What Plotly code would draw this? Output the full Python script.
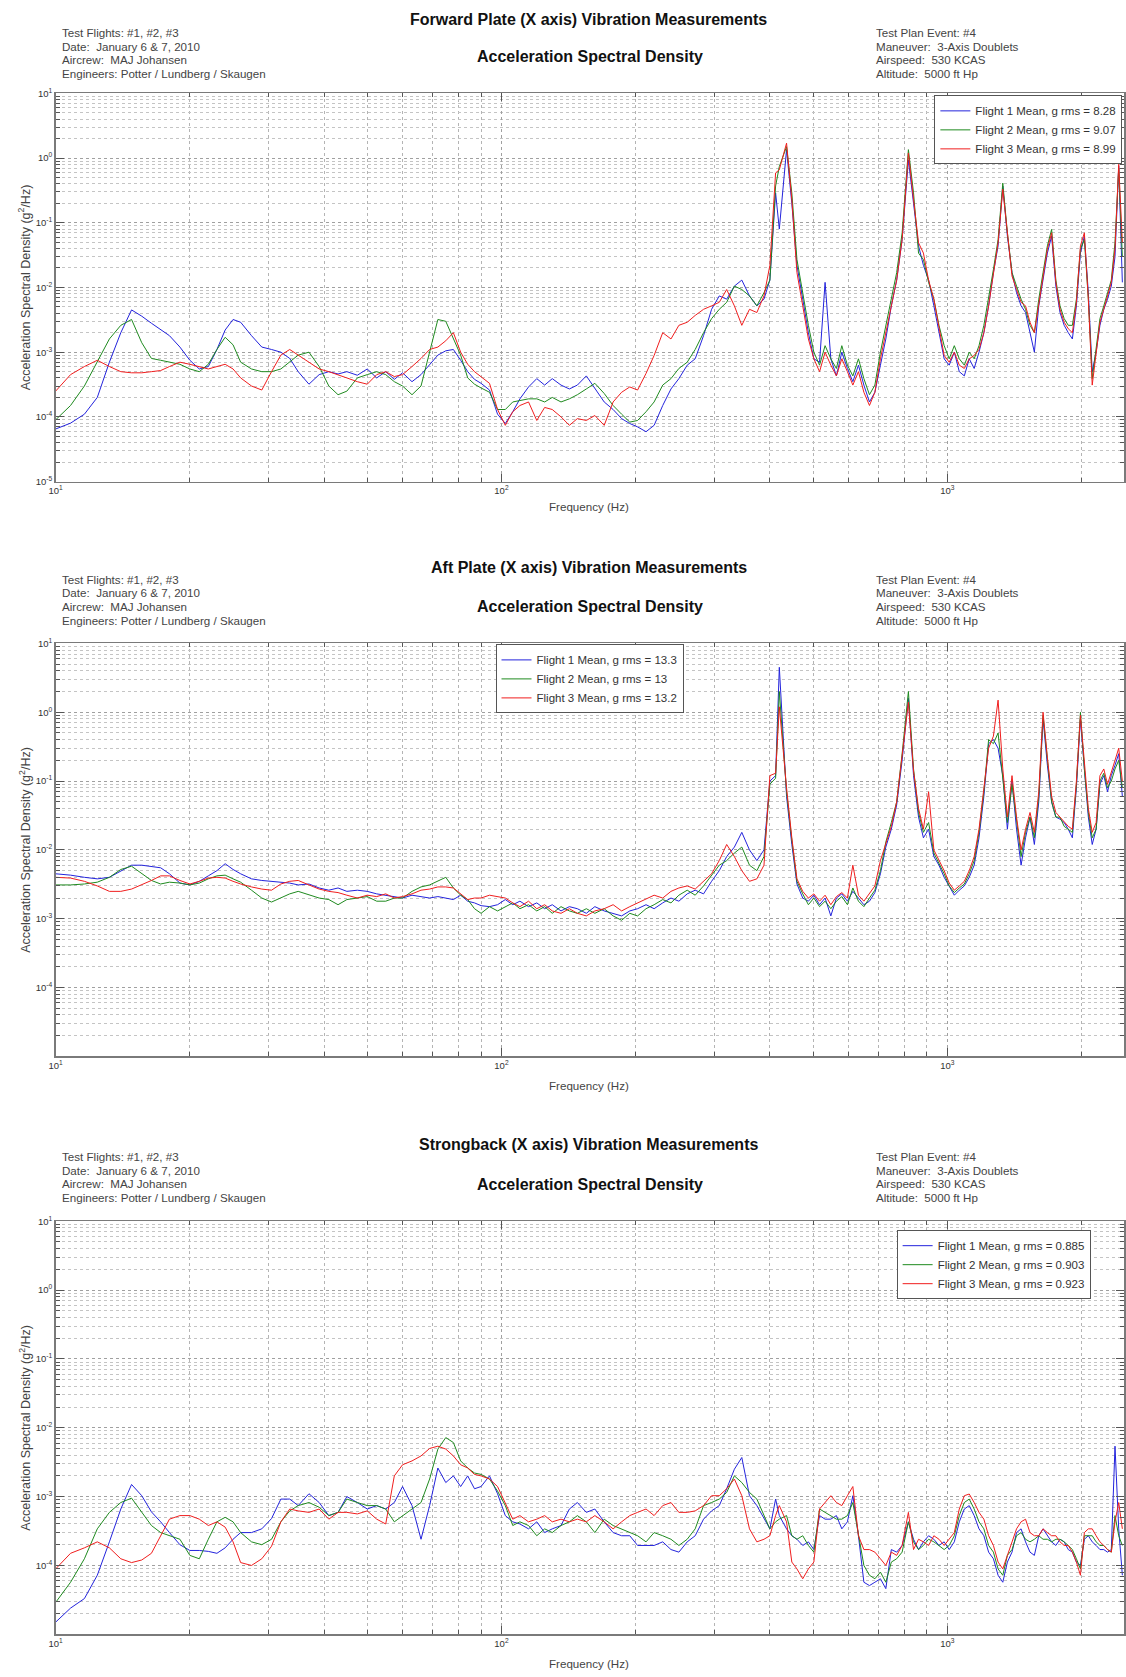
import plotly.graph_objects as go

W, H = 1126, 1677

# ---------------- data ----------------
freq = [10, 10.8, 11.6, 12.4, 13.2, 14, 14.8, 15.6, 16.4, 17.2, 18, 19, 20, 21, 22, 23, 24, 25, 26, 27.5,
        29, 30.5, 32, 33.5, 35, 37, 39, 41, 43, 45, 47.5, 50, 52.5, 55, 57.5, 60, 63, 66, 69, 72,
        75, 78, 81, 84, 87, 90, 94, 98,
        102, 106, 110, 115, 120, 125, 130, 136, 142, 148, 155, 162, 170, 178, 186, 194, 202, 211, 220, 230,
        240, 250, 261, 272, 284, 296, 308, 320, 333, 346, 360, 374, 388,
        400, 412, 420, 436, 448, 460, 474, 488, 502, 517, 532, 548, 564, 580, 597, 614, 632, 650, 669, 688,
        708, 728, 749, 770, 792, 818, 840, 862, 884, 908, 933, 958, 984, 1010, 1037, 1064, 1092, 1120, 1149, 1178,
        1208, 1238, 1269, 1300, 1332, 1364, 1397, 1430, 1464, 1498, 1533, 1568, 1604, 1640, 1677, 1714, 1752, 1790,
        1829, 1868, 1908, 1948, 1989, 2030, 2072, 2114, 2157, 2200, 2244, 2288, 2333, 2378, 2424, 2470]

# Forward Plate
fwd_f1 = [6.5e-5, 8e-5, 1.1e-4, 2e-4, 7e-4, 2e-3, 4.5e-3, 3.6e-3, 2.8e-3, 2.2e-3, 1.8e-3, 1.2e-3, 7.5e-4, 5.5e-4, 6e-4,
          1.1e-3, 2.2e-3, 3.2e-3, 2.9e-3, 1.8e-3, 1.2e-3, 1.1e-3, 1.0e-3, 8e-4, 5e-4, 3.2e-4, 4.5e-4, 5e-4, 4.6e-4, 5e-4,
          4.4e-4, 5.5e-4, 4e-4, 5e-4, 3.8e-4, 4.8e-4, 3.5e-4, 4.5e-4, 6.5e-4, 9e-4, 1.05e-3, 1.1e-3, 7.5e-4, 5e-4, 3.8e-4,
          3.3e-4, 2.6e-4, 1.1e-4,
          7.9e-5, 1.2e-4, 1.9e-4, 2.9e-4, 3.9e-4, 3.1e-4, 3.9e-4, 3.1e-4, 2.7e-4, 3.1e-4, 4.3e-4, 2.7e-4, 1.7e-4, 1.3e-4,
          9.4e-5, 7.9e-5, 7e-5, 5.9e-5, 7.4e-5, 1.5e-4, 2.7e-4, 3.9e-4, 6.3e-4, 7.9e-4, 1.8e-3, 4.6e-3, 7.4e-3, 6.6e-3,
          1.05e-2, 1.3e-2, 7.4e-3, 5.2e-3, 6.6e-3,
          1.3e-2, 0.29, 0.08, 1.35, 0.2, 0.022, 6.6e-3, 2e-3, 7.9e-4, 7e-4, 1.2e-2, 7.9e-4, 4.3e-4, 1e-3, 5.6e-4, 3.5e-4,
          6.3e-4, 3.1e-4, 1.7e-4, 2.4e-4, 6.3e-4, 1.6e-3, 5.2e-3, 1.3e-2, 0.055, 0.94, 0.2, 0.044, 0.022, 0.013, 5.2e-3,
          2e-3, 7.9e-4, 6.3e-4, 1e-3, 5e-4, 4.3e-4, 7.9e-4, 5.6e-4, 1e-3, 2e-3, 5.2e-3, 1.7e-2, 0.044, 0.37, 0.062, 0.017,
          8.3e-3, 5.2e-3, 4.1e-3, 2e-3, 1e-3, 5.2e-3, 1.3e-2, 0.034, 0.062, 1.05e-2, 4.1e-3, 2.6e-3, 2e-3, 1.6e-3, 5.2e-3,
          0.034, 0.062, 8.3e-3, 5e-4, 1e-3, 2.6e-3, 4.6e-3, 6.6e-3, 1.05e-2, 0.03, 0.75, 0.012]
fwd_f2 = [9e-5, 1.5e-4, 3e-4, 7e-4, 1.6e-3, 2.6e-3, 3.2e-3, 1.4e-3, 8e-4, 7.5e-4, 7e-4, 6.5e-4, 5.5e-4, 5e-4, 6.5e-4,
          1.1e-3, 1.7e-3, 1.3e-3, 7e-4, 5.5e-4, 5e-4, 5e-4, 5.5e-4, 7e-4, 9e-4, 1e-3, 6e-4, 3e-4, 2.2e-4, 2.5e-4,
          4e-4, 4.5e-4, 5e-4, 4.5e-4, 3.5e-4, 3e-4, 2.2e-4, 3e-4, 1e-3, 3.2e-3, 3e-3, 1.6e-3, 9e-4, 4e-4, 3.2e-4,
          2.8e-4, 2.4e-4, 1.3e-4,
          1.3e-4, 1.7e-4, 1.8e-4, 1.9e-4, 1.9e-4, 1.7e-4, 2e-4, 1.7e-4, 1.9e-4, 2.2e-4, 2.7e-4, 3.3e-4, 2.3e-4, 1.5e-4,
          1.1e-4, 8.3e-5, 8.8e-5, 1.2e-4, 1.7e-4, 3.1e-4, 3.9e-4, 5.6e-4, 7e-4, 1.1e-3, 2e-3, 3.3e-3, 4.6e-3, 5.9e-3,
          1.05e-2, 9.3e-3, 7.4e-3, 5.2e-3, 8.3e-3,
          1.3e-2, 0.37, 0.74, 1.5, 0.29, 0.027, 8.3e-3, 2.6e-3, 1e-3, 6.3e-4, 1.26e-3, 7.9e-4, 5.6e-4, 1.26e-3, 6.3e-4,
          4.3e-4, 7.9e-4, 3.9e-4, 2.2e-4, 3.1e-4, 1e-3, 2.6e-3, 6.6e-3, 1.7e-2, 0.07, 1.35, 0.29, 0.034, 0.027, 1.2e-2,
          6.6e-3, 2.6e-3, 1.26e-3, 7.9e-4, 1.26e-3, 7.9e-4, 6.3e-4, 1e-3, 7.9e-4, 1.26e-3, 2.6e-3, 6.6e-3, 1.9e-2, 0.055,
          0.41, 0.07, 1.7e-2, 1.05e-2, 6.6e-3, 4.6e-3, 2.6e-3, 2e-3, 6.6e-3, 1.7e-2, 0.044, 0.079, 1.3e-2, 5.2e-3, 3.3e-3,
          2.6e-3, 2.6e-3, 6.6e-3, 0.039, 0.055, 6.6e-3, 3.9e-4, 1.26e-3, 3.3e-3, 5.2e-3, 8.3e-3, 1.3e-2, 0.05, 0.7, 0.03]
fwd_f3 = [2.5e-4, 4.5e-4, 6e-4, 7.5e-4, 6e-4, 5e-4, 4.8e-4, 4.8e-4, 5e-4, 5.2e-4, 6e-4, 7e-4, 6.5e-4, 6e-4, 5.5e-4,
          6e-4, 6.5e-4, 5.5e-4, 4e-4, 3e-4, 2.6e-4, 5e-4, 9e-4, 1.1e-3, 9e-4, 7e-4, 5.5e-4, 5e-4, 4.5e-4, 4e-4,
          3.5e-4, 3.2e-4, 4.5e-4, 5e-4, 4.2e-4, 4.5e-4, 6e-4, 8e-4, 1.1e-3, 1.2e-3, 1.5e-3, 2e-3, 1e-3, 6.5e-4, 5e-4,
          4.2e-4, 3.3e-4, 1.3e-4,
          7.4e-5, 1.2e-4, 1.5e-4, 1.7e-4, 8.8e-5, 1.4e-4, 1.3e-4, 1e-4, 7.4e-5, 9.4e-5, 8.8e-5, 1.05e-4, 7.4e-5, 1.7e-4,
          2.4e-4, 2.9e-4, 2.6e-4, 4.7e-4, 8.9e-4, 2e-3, 1.6e-3, 2.6e-3, 2.9e-3, 3.7e-3, 4.6e-3, 5.2e-3, 5.9e-3, 9.3e-3,
          5.2e-3, 2.6e-3, 4.6e-3, 4.1e-3, 7.4e-3,
          2.2e-2, 0.59, 0.66, 1.7, 0.23, 1.7e-2, 5.2e-3, 1.6e-3, 7.9e-4, 5e-4, 1e-3, 6.3e-4, 4.3e-4, 7.9e-4, 5e-4, 3.1e-4,
          5e-4, 2.4e-4, 1.5e-4, 2.4e-4, 7.9e-4, 2e-3, 5.2e-3, 1.3e-2, 0.055, 1.2, 0.23, 0.049, 0.034, 1.3e-2, 6.6e-3,
          2.3e-3, 8.9e-4, 7e-4, 1e-3, 6.3e-4, 5.6e-4, 7.9e-4, 8.9e-4, 1.1e-3, 2e-3, 5.2e-3, 1.5e-2, 0.049, 0.33, 0.062,
          1.5e-2, 9.3e-3, 5.9e-3, 5.2e-3, 2.9e-3, 2e-3, 5.2e-3, 1.3e-2, 0.039, 0.07, 1.2e-2, 4.6e-3, 2.9e-3, 2.3e-3, 2e-3,
          5.9e-3, 0.044, 0.07, 6.6e-3, 3.1e-4, 1e-3, 2.9e-3, 4.6e-3, 7.4e-3, 1.2e-2, 0.04, 0.8, 0.05]

# Aft Plate
aft_f1 = [4.5e-3, 4.3e-3, 4e-3, 3.8e-3, 4e-3, 5e-3, 6e-3, 6e-3, 5.8e-3, 5.5e-3, 4.5e-3, 3.3e-3, 3.1e-3, 3.5e-3, 4.2e-3,
          5e-3, 6.3e-3, 5.2e-3, 4.5e-3, 3.8e-3, 3.6e-3, 3.5e-3, 3.4e-3, 3.3e-3, 3.1e-3, 3.2e-3, 2.8e-3, 2.6e-3, 2.8e-3,
          2.5e-3, 2.6e-3, 2.5e-3, 2.3e-3, 2.2e-3, 2.1e-3, 2e-3, 2.2e-3, 2.1e-3, 2e-3, 2.1e-3, 2e-3, 1.9e-3, 2.2e-3, 1.8e-3,
          1.7e-3, 1.55e-3, 1.5e-3, 1.6e-3,
          1.9e-3, 1.6e-3, 1.8e-3, 1.5e-3, 1.7e-3, 1.4e-3, 1.6e-3, 1.3e-3, 1.5e-3, 1.4e-3, 1.2e-3, 1.5e-3, 1.3e-3, 1.2e-3,
          1.1e-3, 1.3e-3, 1.4e-3, 1.6e-3, 1.4e-3, 1.7e-3, 2e-3, 1.8e-3, 2.3e-3, 2.6e-3, 2.3e-3, 3.5e-3, 5e-3, 8e-3, 1.1e-2,
          1.8e-2, 1e-2, 7e-3, 1e-2,
          0.1, 0.12, 4.5, 0.06, 0.012, 3.2e-3, 2e-3, 1.8e-3, 2.2e-3, 1.6e-3, 2e-3, 1.1e-3, 2e-3, 2.3e-3, 1.8e-3, 2.5e-3,
          2e-3, 1.6e-3, 1.8e-3, 2.4e-3, 4.5e-3, 0.011, 0.02, 0.045, 0.2, 1.6, 0.12, 0.03, 0.015, 0.02, 8e-3, 6e-3, 4e-3,
          3e-3, 2.2e-3, 2.6e-3, 3e-3, 4e-3, 6e-3, 0.015, 0.06, 0.35, 0.4, 0.3, 0.12, 0.02, 0.1, 0.02, 6e-3, 0.015, 0.03,
          0.012, 0.05, 0.8, 0.17, 0.05, 0.03, 0.028, 0.025, 0.02, 0.015, 0.08, 0.8, 0.15, 0.03, 0.012, 0.02, 0.09, 0.12,
          0.07, 0.12, 0.17, 0.25, 0.06]
aft_f2 = [3.1e-3, 3.1e-3, 3.2e-3, 3.4e-3, 4e-3, 5.2e-3, 5.8e-3, 4.6e-3, 3.6e-3, 3.2e-3, 3.4e-3, 3.3e-3, 3.1e-3, 3.3e-3,
          3.8e-3, 4.2e-3, 4.3e-3, 3.8e-3, 3.4e-3, 2.6e-3, 2e-3, 1.75e-3, 2e-3, 2.3e-3, 2.5e-3, 2.2e-3, 2e-3, 1.9e-3,
          1.6e-3, 1.9e-3, 2e-3, 2.1e-3, 1.8e-3, 1.8e-3, 2e-3, 2e-3, 2.5e-3, 2.9e-3, 3.1e-3, 3.5e-3, 4e-3, 2.8e-3, 2.2e-3,
          1.9e-3, 1.4e-3, 1.2e-3, 1.5e-3, 1.3e-3,
          1.5e-3, 1.7e-3, 1.4e-3, 1.6e-3, 1.3e-3, 1.5e-3, 1.2e-3, 1.5e-3, 1.3e-3, 1.2e-3, 1.4e-3, 1.2e-3, 1.4e-3, 1.1e-3,
          9.5e-4, 1.2e-3, 1.1e-3, 1.4e-3, 1.6e-3, 1.9e-3, 1.7e-3, 2.2e-3, 2.6e-3, 2.2e-3, 3e-3, 4.2e-3, 6e-3, 7e-3, 9e-3,
          1.1e-2, 6e-3, 5e-3, 8e-3,
          0.09, 0.11, 2.0, 0.07, 0.014, 3.5e-3, 2.3e-3, 1.6e-3, 2e-3, 1.5e-3, 1.8e-3, 1.4e-3, 1.8e-3, 2.1e-3, 1.6e-3,
          2.8e-3, 1.8e-3, 1.5e-3, 2e-3, 2.6e-3, 5e-3, 0.013, 0.025, 0.05, 0.25, 2.0, 0.15, 0.035, 0.018, 0.025, 9e-3,
          6.5e-3, 4.5e-3, 3e-3, 2.4e-3, 2.8e-3, 3.2e-3, 4.5e-3, 7e-3, 0.018, 0.07, 0.4, 0.35, 0.5, 0.1, 0.025, 0.09, 0.025,
          8e-3, 0.018, 0.03, 0.015, 0.06, 0.9, 0.2, 0.05, 0.03, 0.03, 0.022, 0.02, 0.018, 0.09, 1.0, 0.15, 0.035, 0.015,
          0.02, 0.1, 0.13, 0.08, 0.1, 0.15, 0.2, 0.08]
aft_f3 = [4e-3, 3.9e-3, 3.5e-3, 3e-3, 2.5e-3, 2.5e-3, 2.7e-3, 3.1e-3, 3.6e-3, 4.2e-3, 4.2e-3, 3.6e-3, 3.2e-3, 3.5e-3,
          3.9e-3, 4e-3, 3.9e-3, 3.5e-3, 3.2e-3, 2.9e-3, 2.7e-3, 2.6e-3, 3.2e-3, 3.5e-3, 3.6e-3, 3.1e-3, 2.7e-3, 2.5e-3,
          2.4e-3, 2.2e-3, 2e-3, 2.2e-3, 2.1e-3, 2.3e-3, 2e-3, 2.1e-3, 2.3e-3, 2.6e-3, 2.7e-3, 2.9e-3, 2.9e-3, 2.8e-3,
          2.3e-3, 1.9e-3, 2e-3, 2e-3, 2.2e-3, 2.1e-3,
          2e-3, 1.7e-3, 1.5e-3, 1.8e-3, 1.4e-3, 1.6e-3, 1.3e-3, 1.2e-3, 1.4e-3, 1.2e-3, 1.1e-3, 1.3e-3, 1.4e-3, 1.6e-3,
          1.3e-3, 1.5e-3, 1.7e-3, 1.9e-3, 2.2e-3, 2e-3, 2.5e-3, 2.8e-3, 3e-3, 2.7e-3, 3.5e-3, 4.5e-3, 7e-3, 1.2e-2, 8e-3,
          5e-3, 3.5e-3, 3.8e-3, 6e-3,
          0.12, 0.13, 1.2, 0.08, 0.015, 3.8e-3, 2.5e-3, 2e-3, 2.3e-3, 1.8e-3, 2.2e-3, 1.6e-3, 2.1e-3, 2.4e-3, 2e-3, 6e-3,
          2.2e-3, 1.8e-3, 2.3e-3, 3e-3, 7e-3, 0.012, 0.022, 0.05, 0.22, 1.4, 0.14, 0.04, 0.02, 0.07, 0.01, 7e-3, 5e-3,
          3.3e-3, 2.6e-3, 3e-3, 3.5e-3, 5e-3, 8e-3, 0.02, 0.08, 0.3, 0.45, 1.5, 0.15, 0.03, 0.12, 0.03, 0.01, 0.02, 0.035,
          0.018, 0.07, 1.0, 0.22, 0.06, 0.035, 0.03, 0.025, 0.022, 0.02, 0.1, 0.9, 0.2, 0.04, 0.018, 0.025, 0.12, 0.15,
          0.09, 0.14, 0.2, 0.3, 0.1]

# Strongback
stb_f1 = [1.5e-5, 2.4e-5, 3.3e-5, 7.2e-5, 2.2e-4, 6.6e-4, 1.5e-3, 1.03e-3, 6e-4, 4.3e-4, 3e-4, 2e-4, 1.65e-4, 1.65e-4,
          1.6e-4, 1.5e-4, 1.8e-4, 2.4e-4, 3e-4, 3e-4, 3.4e-4, 4.8e-4, 9.2e-4, 9.2e-4, 7.4e-4, 1.1e-3, 8.2e-4, 5.3e-4,
          5.9e-4, 1e-3, 8.2e-4, 6.6e-4, 7.4e-4, 6.6e-4, 8.2e-4, 1.4e-3, 7.4e-4, 2.4e-4, 7.4e-4, 2.6e-3, 1.6e-3, 2e-3,
          1.4e-3, 2e-3, 1.3e-3, 1.4e-3, 2e-3, 1.1e-3,
          5.3e-4, 4.3e-4, 4e-4, 3.4e-4, 4.3e-4, 3e-4, 3.4e-4, 3.8e-4, 6.6e-4, 8.2e-4, 5.9e-4, 6.6e-4, 4.3e-4, 3e-4, 2.7e-4,
          2.7e-4, 1.95e-4, 1.95e-4, 1.95e-4, 2.2e-4, 1.7e-4, 1.56e-4, 2.2e-4, 2.7e-4, 4.7e-4, 6.2e-4, 7.4e-4, 1.3e-3,
          2.5e-3, 3.7e-3, 1.03e-3, 7.4e-4, 4.7e-4,
          3.4e-4, 9.2e-4, 5.3e-4, 3.4e-4, 2.7e-4, 2.4e-4, 1.95e-4, 2.2e-4, 1.7e-4, 5.3e-4, 4.7e-4, 4.7e-4, 5.3e-4, 3.4e-4,
          4.3e-4, 1.03e-3, 2.7e-4, 5.7e-5, 5.1e-5, 5.7e-5, 6.4e-5, 4.6e-5, 1.7e-4, 1.56e-4, 1.95e-4, 4.3e-4, 2.4e-4,
          1.7e-4, 2.2e-4, 2.7e-4, 2.4e-4, 1.95e-4, 2.2e-4, 1.7e-4, 2.2e-4, 4.3e-4, 6.6e-4, 7.4e-4, 5.3e-4, 3.4e-4, 2.7e-4,
          1.56e-4, 1.25e-4, 7.2e-5, 5.7e-5, 1.12e-4, 1.56e-4, 3e-4, 3.4e-4, 2.2e-4, 1.56e-4, 1.4e-4, 2.7e-4, 3.4e-4,
          2.7e-4, 2.2e-4, 1.95e-4, 2.4e-4, 2.2e-4, 1.7e-4, 1.56e-4, 1.12e-4, 1e-4, 2.4e-4, 2.7e-4, 2.2e-4, 1.95e-4, 1.7e-4,
          1.7e-4, 1.56e-4, 1.7e-4, 5.4e-3, 3.4e-4, 7.2e-5]
stb_f2 = [2.9e-5, 5.7e-5, 1.25e-4, 3.4e-4, 5.9e-4, 8.2e-4, 9.5e-4, 5.9e-4, 3.8e-4, 3e-4, 2.7e-4, 2.4e-4, 1.4e-4, 1.25e-4,
          2.4e-4, 4.3e-4, 5e-4, 4.3e-4, 3e-4, 2.2e-4, 2e-4, 2.4e-4, 4.3e-4, 6.2e-4, 7.4e-4, 8.2e-4, 7e-4, 5.3e-4, 5.9e-4,
          9.2e-4, 8.2e-4, 7.4e-4, 7.4e-4, 6.6e-4, 4.3e-4, 5.3e-4, 6.6e-4, 8.2e-4, 1.8e-3, 4.9e-3, 7.2e-3, 6.1e-3, 3.3e-3,
          2.6e-3, 2.2e-3, 2.1e-3, 1.8e-3, 1.2e-3,
          7.4e-4, 3.8e-4, 4.3e-4, 3.8e-4, 2.7e-4, 3.4e-4, 3e-4, 3.8e-4, 4.3e-4, 5.3e-4, 4.3e-4, 3e-4, 4.7e-4, 3.8e-4,
          3.4e-4, 3e-4, 2.7e-4, 2.2e-4, 3e-4, 2.7e-4, 2.4e-4, 1.95e-4, 2.4e-4, 3.4e-4, 7.4e-4, 8.2e-4, 9.2e-4, 1.15e-3,
          2e-3, 1.6e-3, 1.15e-3, 9.2e-4, 5.3e-4,
          3.4e-4, 4.3e-4, 4.7e-4, 5.3e-4, 2.7e-4, 2.4e-4, 2.7e-4, 1.95e-4, 1.56e-4, 6.6e-4, 5.9e-4, 5.3e-4, 4.7e-4, 4.7e-4,
          5.3e-4, 8.2e-4, 2.7e-4, 1e-4, 7.2e-5, 6.4e-5, 8e-5, 5.7e-5, 1.12e-4, 1.25e-4, 1.56e-4, 4.3e-4, 2.2e-4, 1.7e-4,
          1.95e-4, 2.4e-4, 2.2e-4, 1.95e-4, 1.7e-4, 1.95e-4, 2.7e-4, 5.3e-4, 8.2e-4, 9.2e-4, 6.6e-4, 4.3e-4, 3.4e-4,
          1.95e-4, 1.56e-4, 8.9e-5, 7.2e-5, 1.4e-4, 1.7e-4, 2.7e-4, 3e-4, 2.4e-4, 2.2e-4, 2.4e-4, 2.7e-4, 2.4e-4, 2.4e-4,
          2.2e-4, 2.4e-4, 2.4e-4, 2.2e-4, 1.95e-4, 1.7e-4, 1.25e-4, 8.9e-5, 2.7e-4, 2.7e-4, 2.7e-4, 2.2e-4, 1.95e-4,
          1.95e-4, 1.7e-4, 1.56e-4, 5.3e-4, 2.7e-4, 1.95e-4]
stb_f3 = [8.9e-5, 1.5e-4, 1.8e-4, 2.2e-4, 1.8e-4, 1.25e-4, 1.1e-4, 1.2e-4, 1.5e-4, 2.7e-4, 4.7e-4, 5.3e-4, 5.3e-4, 4.7e-4,
          3.8e-4, 4.3e-4, 3.6e-4, 2.2e-4, 1.1e-4, 1e-4, 1.25e-4, 1.9e-4, 4.3e-4, 6.6e-4, 6.2e-4, 5.9e-4, 6.6e-4, 4.7e-4,
          5.9e-4, 5.9e-4, 5.6e-4, 6.2e-4, 4.7e-4, 4e-4, 2e-3, 2.9e-3, 3.3e-3, 3.9e-3, 5e-3, 5.4e-3, 4.9e-3, 3.9e-3,
          2.9e-3, 2.6e-3, 2.1e-3, 2e-3, 1.8e-3, 1.4e-3,
          8.2e-4, 4.7e-4, 5.3e-4, 4.3e-4, 4.7e-4, 5.3e-4, 4.3e-4, 4.7e-4, 4.3e-4, 4.7e-4, 4.3e-4, 5.3e-4, 4.3e-4, 3.4e-4,
          4.3e-4, 5.3e-4, 5.9e-4, 6.6e-4, 5.3e-4, 7.4e-4, 8.2e-4, 5.9e-4, 5.9e-4, 6.2e-4, 7.4e-4, 1.03e-3, 1.03e-3,
          1.3e-3, 1.8e-3, 1.03e-3, 3.4e-4, 2.2e-4, 2.4e-4,
          2.7e-4, 5.3e-4, 7.4e-4, 4.3e-4, 1.12e-4, 8.9e-5, 6.4e-5, 8.9e-5, 1.12e-4, 6.6e-4, 8.2e-4, 1.03e-3, 8.2e-4,
          7.4e-4, 1.03e-3, 1.4e-3, 2.7e-4, 1.7e-4, 1.7e-4, 1.56e-4, 1.25e-4, 1e-4, 1.56e-4, 1.4e-4, 1.95e-4, 5.9e-4,
          1.7e-4, 2.4e-4, 2.2e-4, 1.95e-4, 2.7e-4, 2.4e-4, 1.95e-4, 2.4e-4, 3e-4, 6.6e-4, 1.03e-3, 1.09e-3, 8.2e-4, 5.9e-4,
          4.7e-4, 2.7e-4, 1.95e-4, 1.12e-4, 8.9e-5, 1.4e-4, 2.2e-4, 3.4e-4, 4.3e-4, 4.7e-4, 3e-4, 2.7e-4, 2.7e-4, 3.4e-4,
          3e-4, 2.7e-4, 2.7e-4, 2.2e-4, 1.95e-4, 1.95e-4, 1.56e-4, 1.12e-4, 7.2e-5, 3e-4, 3.4e-4, 3.4e-4, 2.7e-4, 2.2e-4,
          1.95e-4, 1.7e-4, 1.56e-4, 4.3e-4, 8.2e-4, 3.4e-4]

series_names = ["Flight 1 Mean, g rms = ", "Flight 2 Mean, g rms = ", "Flight 3 Mean, g rms = "]
fwd_grms = ["8.28", "9.07", "8.99"]
aft_grms = ["13.3", "13", "13.2"]
stb_grms = ["0.885", "0.903", "0.923"]

panel_titles = ["Forward Plate (X axis) Vibration Measurements",
                "Aft Plate (X axis) Vibration Measurements",
                "Strongback (X axis) Vibration Measurements"]
subtitle = "Acceleration Spectral Density"
left_info = ["Test Flights: #1, #2, #3", "Date:  January 6 & 7, 2010", "Aircrew:  MAJ Johansen",
             "Engineers: Potter / Lundberg / Skaugen"]
right_info = ["Test Plan Event: #4", "Maneuver:  3-Axis Doublets", "Airspeed:  530 KCAS", "Altitude:  5000 ft Hp"]

colors = ["#2323dc", "#1f8a1f", "#f01e1e"]

# ---------------- layout geometry (pixels) ----------------
panels = [
    dict(top=87, bottom=478, series=[fwd_f1, fwd_f2, fwd_f3], grms=fwd_grms,
         title_y=13, info_y=[26, 40, 53, 67], sub_y=50, freq_y=503, ylabels_min=-5,
         legend=(934, 89)),
    dict(top=641, bottom=1057, series=[aft_f1, aft_f2, aft_f3], grms=aft_grms,
         title_y=565, info_y=[577, 590, 604, 618], sub_y=604, freq_y=1086, ylabels_min=-4,
         legend=(492, 642)),
    dict(top=1223, bottom=1639, series=[stb_f1, stb_f2, stb_f3], grms=stb_grms,
         title_y=1146, info_y=[1158, 1172, 1185, 1199], sub_y=1186, freq_y=1668, ylabels_min=-4,
         legend=(896, 1232)),
]

FONT = "Liberation Sans, Arial, sans-serif"
xleft, xright = 49, 1125

xminor = [m * 10 ** e for e in (1, 2, 3) for m in range(2, 10)]
yminor = [m * 10.0 ** e for e in range(-5, 1) for m in range(2, 10)]

fig = go.Figure()
layout = dict(width=W, height=H, margin=dict(l=0, r=0, t=0, b=0),
              paper_bgcolor="white", plot_bgcolor="white", showlegend=True)
annotations = []

for i, p in enumerate(panels):
    k = "" if i == 0 else str(i + 1)
    leg = "legend" if i == 0 else "legend" + str(i + 1)
    for j in range(3):
        fig.add_trace(go.Scatter(
            x=freq, y=p["series"][j], mode="lines",
            line=dict(color=colors[j], width=1),
            name=series_names[j] + p["grms"][j],
            xaxis="x" + k, yaxis="y" + k, legend=leg))

    common = dict(ticks="inside", tickcolor="#555", tickwidth=1,
                  showline=True, linecolor="#7a7a7a", linewidth=1.5, mirror="allticks",
                  showgrid=True, gridcolor="#a0a0a0", griddash="dot", gridwidth=1,
                  zeroline=False, tickfont=dict(family=FONT, size=9.5, color="#333"))
    layout["xaxis" + k] = dict(
        type="log", range=[1, 3.3964], domain=[xleft / W, xright / W], anchor="y" + k,
        tickmode="array", tickvals=[10, 100, 1000],
        ticktext=["10<sup>1</sup>", "10<sup>2</sup>", "10<sup>3</sup>"], ticklen=8,
        minor=dict(tickmode="array", tickvals=xminor, ticks="inside", ticklen=4, tickcolor="#555",
                   showgrid=True, gridcolor="#b4b4b4", griddash="dot", gridwidth=1),
        **common)
    yt = [10.0 ** e for e in range(p["ylabels_min"], 2)]
    layout["yaxis" + k] = dict(
        type="log", range=[-5, 1], domain=[1 - p["bottom"] / H, 1 - p["top"] / H], anchor="x" + k,
        tickmode="array", tickvals=yt,
        ticktext=["10<sup>%d</sup>" % e for e in range(p["ylabels_min"], 2)], ticklen=8,
        minor=dict(tickmode="array", tickvals=yminor, ticks="inside", ticklen=4, tickcolor="#555",
                   showgrid=True, gridcolor="#c4c4c4", griddash="dot", gridwidth=1),
        **common)

    lx, ly = p["legend"]
    layout[leg] = dict(x=lx / W, y=1 - ly / H, xanchor="left", yanchor="top",
                       bgcolor="white", bordercolor="#555", borderwidth=1,
                       font=dict(family=FONT, size=11.5, color="#333"),
                       tracegroupgap=0, itemwidth=30)

    # header texts
    annotations.append(dict(text="<b>" + panel_titles[i] + "</b>", x=586 / W, y=1 - p["title_y"] / H,
                            xref="paper", yref="paper", xanchor="center", yanchor="middle", showarrow=False,
                            font=dict(family=FONT, size=16, color="#111")))
    annotations.append(dict(text="<b>" + subtitle + "</b>", x=587 / W, y=1 - p["sub_y"] / H,
                            xref="paper", yref="paper", xanchor="center", yanchor="middle", showarrow=False,
                            font=dict(family=FONT, size=16, color="#111")))
    for t, yy in zip(left_info, p["info_y"]):
        annotations.append(dict(text=t, x=53 / W, y=1 - yy / H, xref="paper", yref="paper",
                                xanchor="left", yanchor="middle", showarrow=False,
                                font=dict(family=FONT, size=11.6, color="#444")))
    for t, yy in zip(right_info, p["info_y"]):
        annotations.append(dict(text=t, x=873 / W, y=1 - yy / H, xref="paper", yref="paper",
                                xanchor="left", yanchor="middle", showarrow=False,
                                font=dict(family=FONT, size=11.6, color="#444")))
    annotations.append(dict(text="Frequency (Hz)", x=586 / W, y=1 - p["freq_y"] / H, xref="paper", yref="paper",
                            xanchor="center", yanchor="middle", showarrow=False,
                            font=dict(family=FONT, size=11.6, color="#444")))
    annotations.append(dict(text="Acceleration Spectral Density (g<sup>2</sup>/Hz)", x=18 / W,
                            y=1 - (p["top"] + p["bottom"]) / 2 / H, xref="paper", yref="paper",
                            xanchor="center", yanchor="middle", textangle=-90, showarrow=False,
                            font=dict(family=FONT, size=12.5, color="#444")))

layout["annotations"] = annotations
fig.update_layout(**layout)
fig.write_html("out.html",
               config={"displayModeBar": False, "staticPlot": True},
               post_script="document.body.style.margin='0px';document.body.style.padding='0px';"
                           "document.body.style.overflow='hidden';")
